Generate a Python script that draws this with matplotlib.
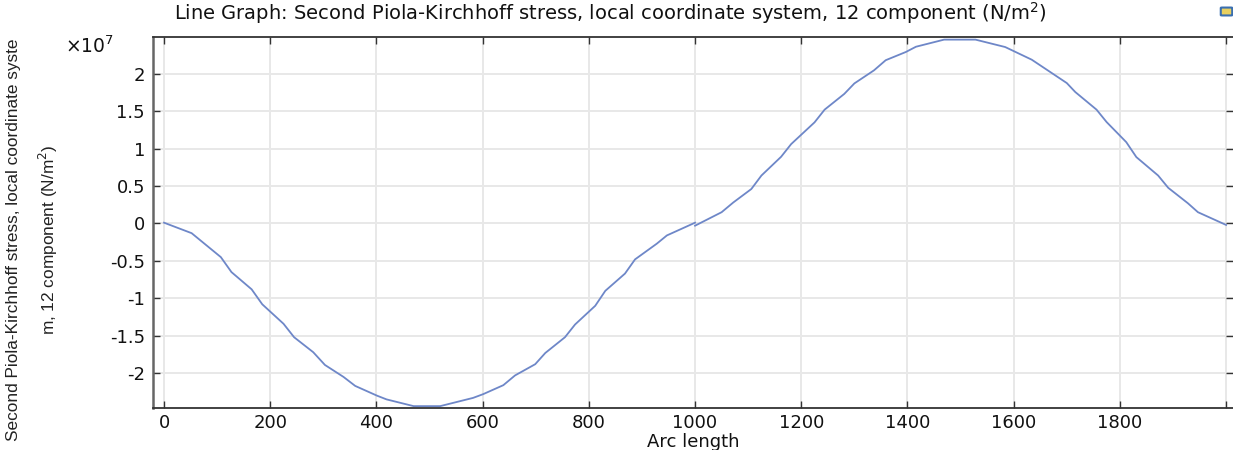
import matplotlib
matplotlib.use("Agg")
import matplotlib.pyplot as plt
import numpy as np
from matplotlib.ticker import FuncFormatter, MultipleLocator
from matplotlib.patches import FancyBboxPatch

plt.rcParams["axes.unicode_minus"] = False

SCALE = 1e7

# first segment, arc length 0..1000 (values in 1e7 N/m^2)
arc_a = [0, 52, 107, 127, 165, 185, 225, 245, 281, 303, 338, 360, 401, 419, 470,
         520, 582, 601, 639, 661, 699, 718, 755, 774, 812, 831, 868, 887, 928, 947, 1000]
s12_a = [0.01, -0.13, -0.45, -0.65, -0.88, -1.08, -1.34, -1.52, -1.72, -1.89, -2.05,
         -2.17, -2.30, -2.35, -2.44, -2.44, -2.33, -2.28, -2.16, -2.03, -1.88, -1.73,
         -1.52, -1.35, -1.10, -0.90, -0.67, -0.48, -0.27, -0.16, 0.01]

# second segment, arc length 1000..2000
arc_b = [1000, 1050, 1072, 1106, 1125, 1162, 1181, 1225, 1244, 1281, 1300, 1337, 1359,
         1397, 1416, 1469, 1528, 1584, 1634, 1700, 1716, 1756, 1775, 1812, 1831, 1872,
         1891, 1928, 1947, 2000]
s12_b = [-0.03, 0.15, 0.28, 0.46, 0.64, 0.89, 1.06, 1.35, 1.52, 1.73, 1.87, 2.045,
         2.18, 2.29, 2.36, 2.455, 2.455, 2.356, 2.187, 1.875, 1.755, 1.52, 1.354, 1.086,
         0.886, 0.64, 0.476, 0.27, 0.15, -0.02]

title = "Line Graph: Second Piola-Kirchhoff stress, local coordinate system, 12 component (N/m$^2$)"
ylabel = "Second Piola-Kirchhoff stress, local coordinate syste\nm, 12 component (N/m$^2$)"
xlabel = "Arc length"

W, H = 1233, 450
fig = plt.figure(figsize=(W / 100, H / 100), dpi=100)
ax = fig.add_axes([153.4 / W, 1 - 408 / H, 1 - 153.4 / W, (408 - 37) / H])

line_color = "#6e87c8"
ax.plot(arc_a, np.array(s12_a) * SCALE, color=line_color, linewidth=1.3)
ax.plot(arc_b, np.array(s12_b) * SCALE, color=line_color, linewidth=1.3)

ax.set_xlim(-20, 2013)
ax.set_ylim(-2.465 * SCALE, 2.49 * SCALE)
ax.xaxis.set_major_locator(MultipleLocator(200))
ax.yaxis.set_major_locator(MultipleLocator(0.5 * SCALE))
ax.xaxis.set_major_formatter(FuncFormatter(lambda v, p: "" if v > 1900 else "%d" % v))
ax.yaxis.set_major_formatter(FuncFormatter(lambda v, p: "%g" % (v / SCALE)))

ax.grid(True, color="#e8e8e8", linewidth=1.4)
ax.set_axisbelow(True)
ax.tick_params(direction="in", length=5, width=1, color="#333333",
               top=True, right=True, labelsize=13, labelcolor="#111111")
ax.tick_params(axis="x", pad=4)
ax.tick_params(axis="y", pad=6)
for side in ["top", "bottom"]:
    ax.spines[side].set_color("#333333")
    ax.spines[side].set_linewidth(1.3)
ax.spines["left"].set_color("#666666")
ax.spines["left"].set_linewidth(1.8)
ax.spines["right"].set_visible(False)

fig.text((153.4 + 1079.6 / 2) / W, 1 - 447 / H, xlabel, ha="center", va="baseline",
         fontsize=13, color="#111111")
fig.text(610 / W, 1 - 20 / H, title, ha="center", va="baseline", fontsize=14,
         color="#111111")
fig.text(65 / W, 1 - 53 / H, "×10$^{7}$", ha="left", va="baseline", fontsize=13.5,
         color="#111111")
fig.text(33 / W, 1 - 240 / H, ylabel, rotation=90, ha="center", va="center",
         multialignment="center", linespacing=1.9, fontsize=12.4,
         family=["Liberation Sans", "DejaVu Sans"], color="#222222")

# small toolbar icon in the top right corner
fig.patches.append(FancyBboxPatch((1222 / W, 1 - 15 / H), 9 / W, 7 / H,
                                  boxstyle="round,pad=0.001", transform=fig.transFigure,
                                  facecolor="#e8d060", edgecolor="#3a6fb0", linewidth=1.5))

fig.savefig("out.png", dpi=100)
